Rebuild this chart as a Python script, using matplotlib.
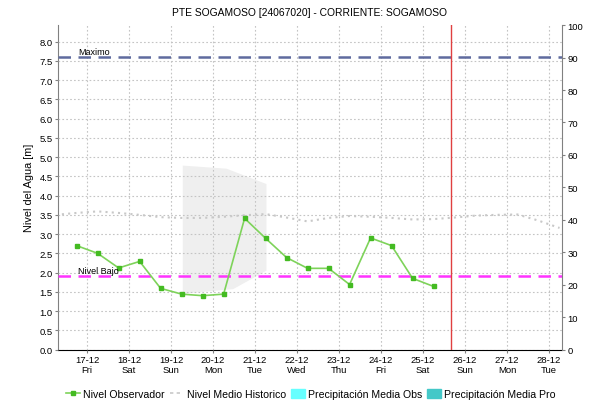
import numpy as np
import pandas as pd
import matplotlib
matplotlib.use('Agg')
import matplotlib.pyplot as plt
import matplotlib.dates as mdates
from matplotlib.lines import Line2D
from matplotlib.patches import Patch

plt.rcParams['font.family'] = ['Liberation Sans', 'DejaVu Sans']

###############################################################################
title       = 'PTE SOGAMOSO [24067020] - CORRIENTE: SOGAMOSO'
ylabel      = 'Nivel del Agua [m]'

# observed level, every 12 h
obs_times   = pd.date_range('2021-12-16 18:00', periods=18, freq='12h')
obs_level   = [2.70, 2.50, 2.12, 2.29, 1.59, 1.44, 1.40, 1.44, 3.41,
               2.89, 2.39, 2.11, 2.11, 1.69, 2.90, 2.70, 1.85, 1.64]

# historic mean level
hist_times  = pd.date_range('2021-12-16 06:00', periods=25, freq='12h')
hist_level  = [3.50, 3.55, 3.59, 3.55, 3.50, 3.44, 3.42, 3.42, 3.45,
               3.49, 3.52, 3.43, 3.33, 3.42, 3.47, 3.45, 3.42, 3.38,
               3.39, 3.43, 3.48, 3.50, 3.51, 3.35, 3.16]

# light grey shaded region
shade_times = pd.to_datetime(['2021-12-19 06:40', '2021-12-20 07:40',
                              '2021-12-21 06:30', '2021-12-21 06:30',
                              '2021-12-20 11:30', '2021-12-19 06:40'])
shade_level = [4.78, 4.70, 4.30, 2.05, 1.57, 1.45]

nivel_max   = 7.6
nivel_bajo  = 1.92
now_time    = pd.Timestamp('2021-12-25 16:00')
x_start     = pd.Timestamp('2021-12-16 07:20')
x_end       = pd.Timestamp('2021-12-28 07:20')
###############################################################################
fig = plt.figure(figsize=(5.9, 4.02), dpi=100)
ax = fig.add_axes([0.0983, 0.128, 0.854, 0.807])

# shade sits under the grid
ax.fill(shade_times, shade_level, color='#efefef', lw=0, zorder=1)

ax.plot(hist_times, hist_level, color='#c8c8c8', lw=1.5,
        linestyle=(0, (1, 2)), zorder=3)

ax.axhline(nivel_max, color='#5f6b9e', lw=1.8, dashes=(5, 3), zorder=3)
ax.axhline(nivel_bajo, color='#ff33ff', lw=1.8, dashes=(5, 3), zorder=3)
ax.axvline(now_time, color='#e04040', lw=1.0, zorder=3)

ax.plot(obs_times, obs_level, color='#7ed35a', lw=1.2, marker='s', ms=2.6,
        mfc='#44bb22', mec='#44bb22', zorder=4)

lbl_x = pd.Timestamp('2021-12-16 19:00')
ax.text(lbl_x, nivel_max + 0.03, 'Maximo', fontsize=6.5, va='bottom', zorder=5)
ax.text(lbl_x, nivel_bajo + 0.03, 'Nivel Bajo', fontsize=6.5, va='bottom', zorder=5)

ax.set_xlim(x_start, x_end)
ax.set_ylim(0, 8.43)
ax.set_yticks(np.arange(0, 8.01, 0.5))
ax.yaxis.set_major_formatter(plt.FormatStrFormatter('%.1f'))
ax.xaxis.set_major_locator(mdates.DayLocator())
ax.xaxis.set_major_formatter(mdates.DateFormatter('%d-%m\n%a'))
ax.grid(True, color='#c4c4c4', lw=0.8, linestyle=(0, (1.5, 2)), zorder=2)
ax.set_axisbelow(False)
for gl in ax.get_xgridlines() + ax.get_ygridlines():
    gl.set_zorder(2)

ax.tick_params(axis='both', labelsize=6.8, length=2, color='#808080', pad=2)
ax.set_ylabel(ylabel, fontsize=7.8, labelpad=4)
ax.set_title(title, fontsize=7.4, pad=7)

ax.spines['top'].set_visible(False)
ax.spines['right'].set_visible(False)
ax.spines['left'].set_color('#808080')
ax.spines['bottom'].set_color('black')
ax.spines['bottom'].set_linestyle((0, (1, 1)))

ax2 = ax.twinx()
ax2.set_ylim(0, 100)
ax2.set_yticks(range(0, 101, 10))
ax2.tick_params(axis='y', labelsize=6.8, length=2, color='#808080', pad=2)
for s in ['top', 'left', 'bottom']:
    ax2.spines[s].set_visible(False)
ax2.spines['right'].set_color('#808080')

handles = [
    Line2D([], [], color='#7ed35a', lw=1.2, marker='s', ms=2.2,
           mfc='#44bb22', mec='#44bb22'),
    Line2D([], [], color='#c8c8c8', lw=1.2, linestyle=(0, (2, 2))),
    Patch(facecolor='#66ffff', edgecolor='#66ffff'),
    Patch(facecolor='#44c8c8', edgecolor='#44c8c8'),
]
labels = ['Nivel Observador', 'Nivel Medio Historico',
          'Precipitación Media Obs', 'Precipitación Media Pro']
fig.legend(handles, labels, loc='center', bbox_to_anchor=(0.527, 0.017),
           ncol=4, frameon=False, fontsize=7.6, handlelength=1.3,
           handleheight=0.9, handletextpad=0.3, columnspacing=0.5)

fig.savefig('out.png', dpi=100)
